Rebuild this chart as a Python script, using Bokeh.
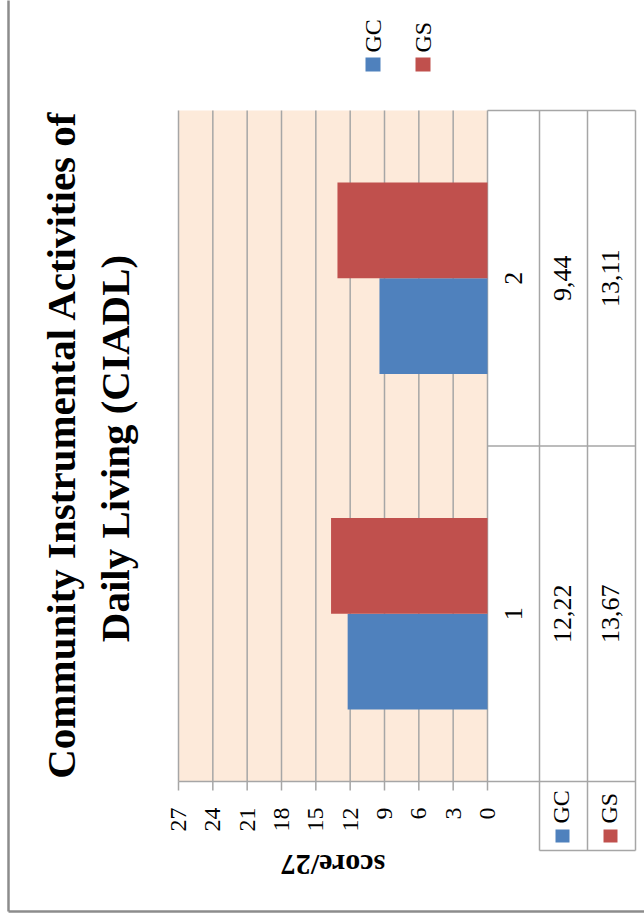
import math

from bokeh.core.properties import value
from bokeh.embed import file_html
from bokeh.models import ColumnDataSource, Range1d
from bokeh.plotting import figure
from bokeh.resources import INLINE
from bokeh.transform import dodge

# ---- data -------------------------------------------------------------
title_lines = ["Community Instrumental Activities of", "Daily Living (CIADL)"]
categories = ["1", "2"]
series = ["GC", "GS"]
gc_values = [12.22, 9.44]
gs_values = [13.67, 13.11]
ticks = [0, 3, 6, 9, 12, 15, 18, 21, 24, 27]
tick_labels = ["0", "3", "6", "9", "12", "15", "18", "21", "24", "27"]
axis_title = "score/27"

# ---- styling ----------------------------------------------------------
BLUE = "#4F81BD"
RED = "#C0504D"
PEACH = "#FDEADA"
GRID = "#A6A6A6"
FRAME_GREY = "#8C8C8C"
SERIF = "Liberation Serif"
colors = [BLUE, RED]

# ---- page geometry (pixels) -------------------------------------------
W, H = 644, 922
PLOT_L, PLOT_R = 178, 487          # value axis: 27 on the left, 0 on the right
TOP, BOTTOM = 110, 781             # category band (data table rows share it)
TABLE_COLS = [487, 539, 587, 635]  # table column edges
KEY_BOTTOM = 850                   # bottom of the legend-key cells
VMAX = ticks[-1]
NCAT = len(categories)
PX = VMAX / (PLOT_R - PLOT_L)      # value units per pixel


def px2v(px):
    """horizontal page position -> value coordinate"""
    return (PLOT_R - px) * PX


def py2c(py):
    """vertical page position -> category coordinate"""
    return (BOTTOM - py) * NCAT / (BOTTOM - TOP)


def fmt(v):
    return f"{v:.2f}".replace(".", ",")


# the frame fills the whole page; the scales place everything
p = figure(
    width=W, height=H,
    x_range=Range1d(px2v(0), px2v(W)),
    y_range=Range1d(py2c(H), py2c(0)),
    x_axis_location=None, y_axis_location=None,
    output_backend="svg", toolbar_location=None,
    min_border=0, outline_line_color=None,
    background_fill_color="white", border_fill_color="white",
)
p.xgrid.visible = False
p.ygrid.visible = False

src = ColumnDataSource(dict(
    cat=categories,
    pos=[i + 0.5 for i in range(NCAT)],
    GC=gc_values, GS=gs_values,
    GC_lbl=[fmt(v) for v in gc_values],
    GS_lbl=[fmt(v) for v in gs_values],
))
tsrc = ColumnDataSource(dict(tick=ticks, lbl=tick_labels))

# plot-area fill
p.quad(left=0, right=VMAX, bottom=0, top=NCAT, fill_color=PEACH, line_color=None)

# value gridlines and tick marks
p.segment(x0="tick", x1="tick", y0=0, y1=NCAT, source=tsrc,
          line_color=GRID, line_width=1.5)
p.segment(x0="tick", x1="tick", y0=0, y1=py2c(BOTTOM + 9), source=tsrc,
          line_color=GRID, line_width=1.5)

# bars (gap width 150 %)
BAR_H = 1 / 3.5
for i, (name, col) in enumerate(zip(series, colors)):
    off = (i - 0.5) * BAR_H
    p.hbar(y=dodge("pos", off), left=0, right=name, height=BAR_H,
           source=src, fill_color=col, line_color=None)

# text reading upwards, centred across its line
rot = dict(angle=math.pi / 2, text_baseline="middle",
           text_font=value(SERIF), text_color="black")

# tick labels, ending just below the ticks
p.text(x="tick", y=py2c(807), text="lbl", source=tsrc,
       text_align="right", text_font_size="24px", **rot)

# value-axis title (upside down)
p.text(x=[px2v((PLOT_L + PLOT_R) / 2)], y=[py2c(865)], text=[axis_title],
       angle=math.pi, text_align="center", text_baseline="middle",
       text_font=value(SERIF), text_font_style="bold",
       text_font_size="30px", text_color="black")

# ---- data table beside the bars -----------------------------------------
vx = [px2v(x) for x in TABLE_COLS]
kbot = py2c(KEY_BOTTOM)
seg = ColumnDataSource(dict(
    x0=[vx[1], vx[2], vx[3], vx[0], vx[0], px2v(PLOT_L), vx[1]],
    x1=[vx[1], vx[2], vx[3], vx[3], vx[3], vx[3], vx[3]],
    y0=[NCAT, NCAT, NCAT, NCAT, 1, 0, kbot],
    y1=[kbot, kbot, kbot, NCAT, 1, 0, kbot],
))
p.segment(x0="x0", y0="y0", x1="x1", y1="y1", source=seg,
          line_color=GRID, line_width=1.5)

p.text(x=px2v(512.5), y="pos", text="cat", source=src, text_align="center",
       text_font_size="26px", **rot)
p.text(x=px2v(562), y="pos", text="GC_lbl", source=src, text_align="center",
       text_font_size="26px", **rot)
p.text(x=px2v(610), y="pos", text="GS_lbl", source=src, text_align="center",
       text_font_size="26px", **rot)

# legend keys under the table
mids = [(TABLE_COLS[1] + TABLE_COLS[2]) / 2, (TABLE_COLS[2] + TABLE_COLS[3]) / 2]
p.quad(left=[px2v(m - 8) for m in mids], right=[px2v(m + 6) for m in mids],
       top=py2c(829), bottom=py2c(842), fill_color=colors, line_color=None)
p.text(x=[px2v(m - 3) for m in mids], y=py2c(823), text=series,
       text_align="left", text_font_size="24px", **rot)

# legend above the chart
lx = [365, 415]
p.quad(left=[px2v(x) for x in lx], right=[px2v(x + 15) for x in lx],
       top=py2c(57), bottom=py2c(71), fill_color=colors, line_color=None)
p.text(x=[px2v(x + 7) for x in lx], y=py2c(52), text=series,
       text_align="left", text_font_size="24px", **rot)

# chart title, two lines
p.text(x=[px2v(60), px2v(114)], y=[py2c(444), py2c(448)], text=title_lines,
       angle=math.pi / 2, text_align="center", text_baseline="middle",
       text_font=value(SERIF), text_font_style="bold",
       text_font_size="41px", text_color="black")

# chart border (left and bottom edges)
p.segment(x0=[px2v(8), px2v(8)], y0=[py2c(-5), py2c(911)],
          x1=[px2v(8), px2v(W + 5)], y1=[py2c(911), py2c(911)],
          line_color=FRAME_GREY, line_width=2.5)

open("out.html", "w").write(file_html(p, INLINE))
